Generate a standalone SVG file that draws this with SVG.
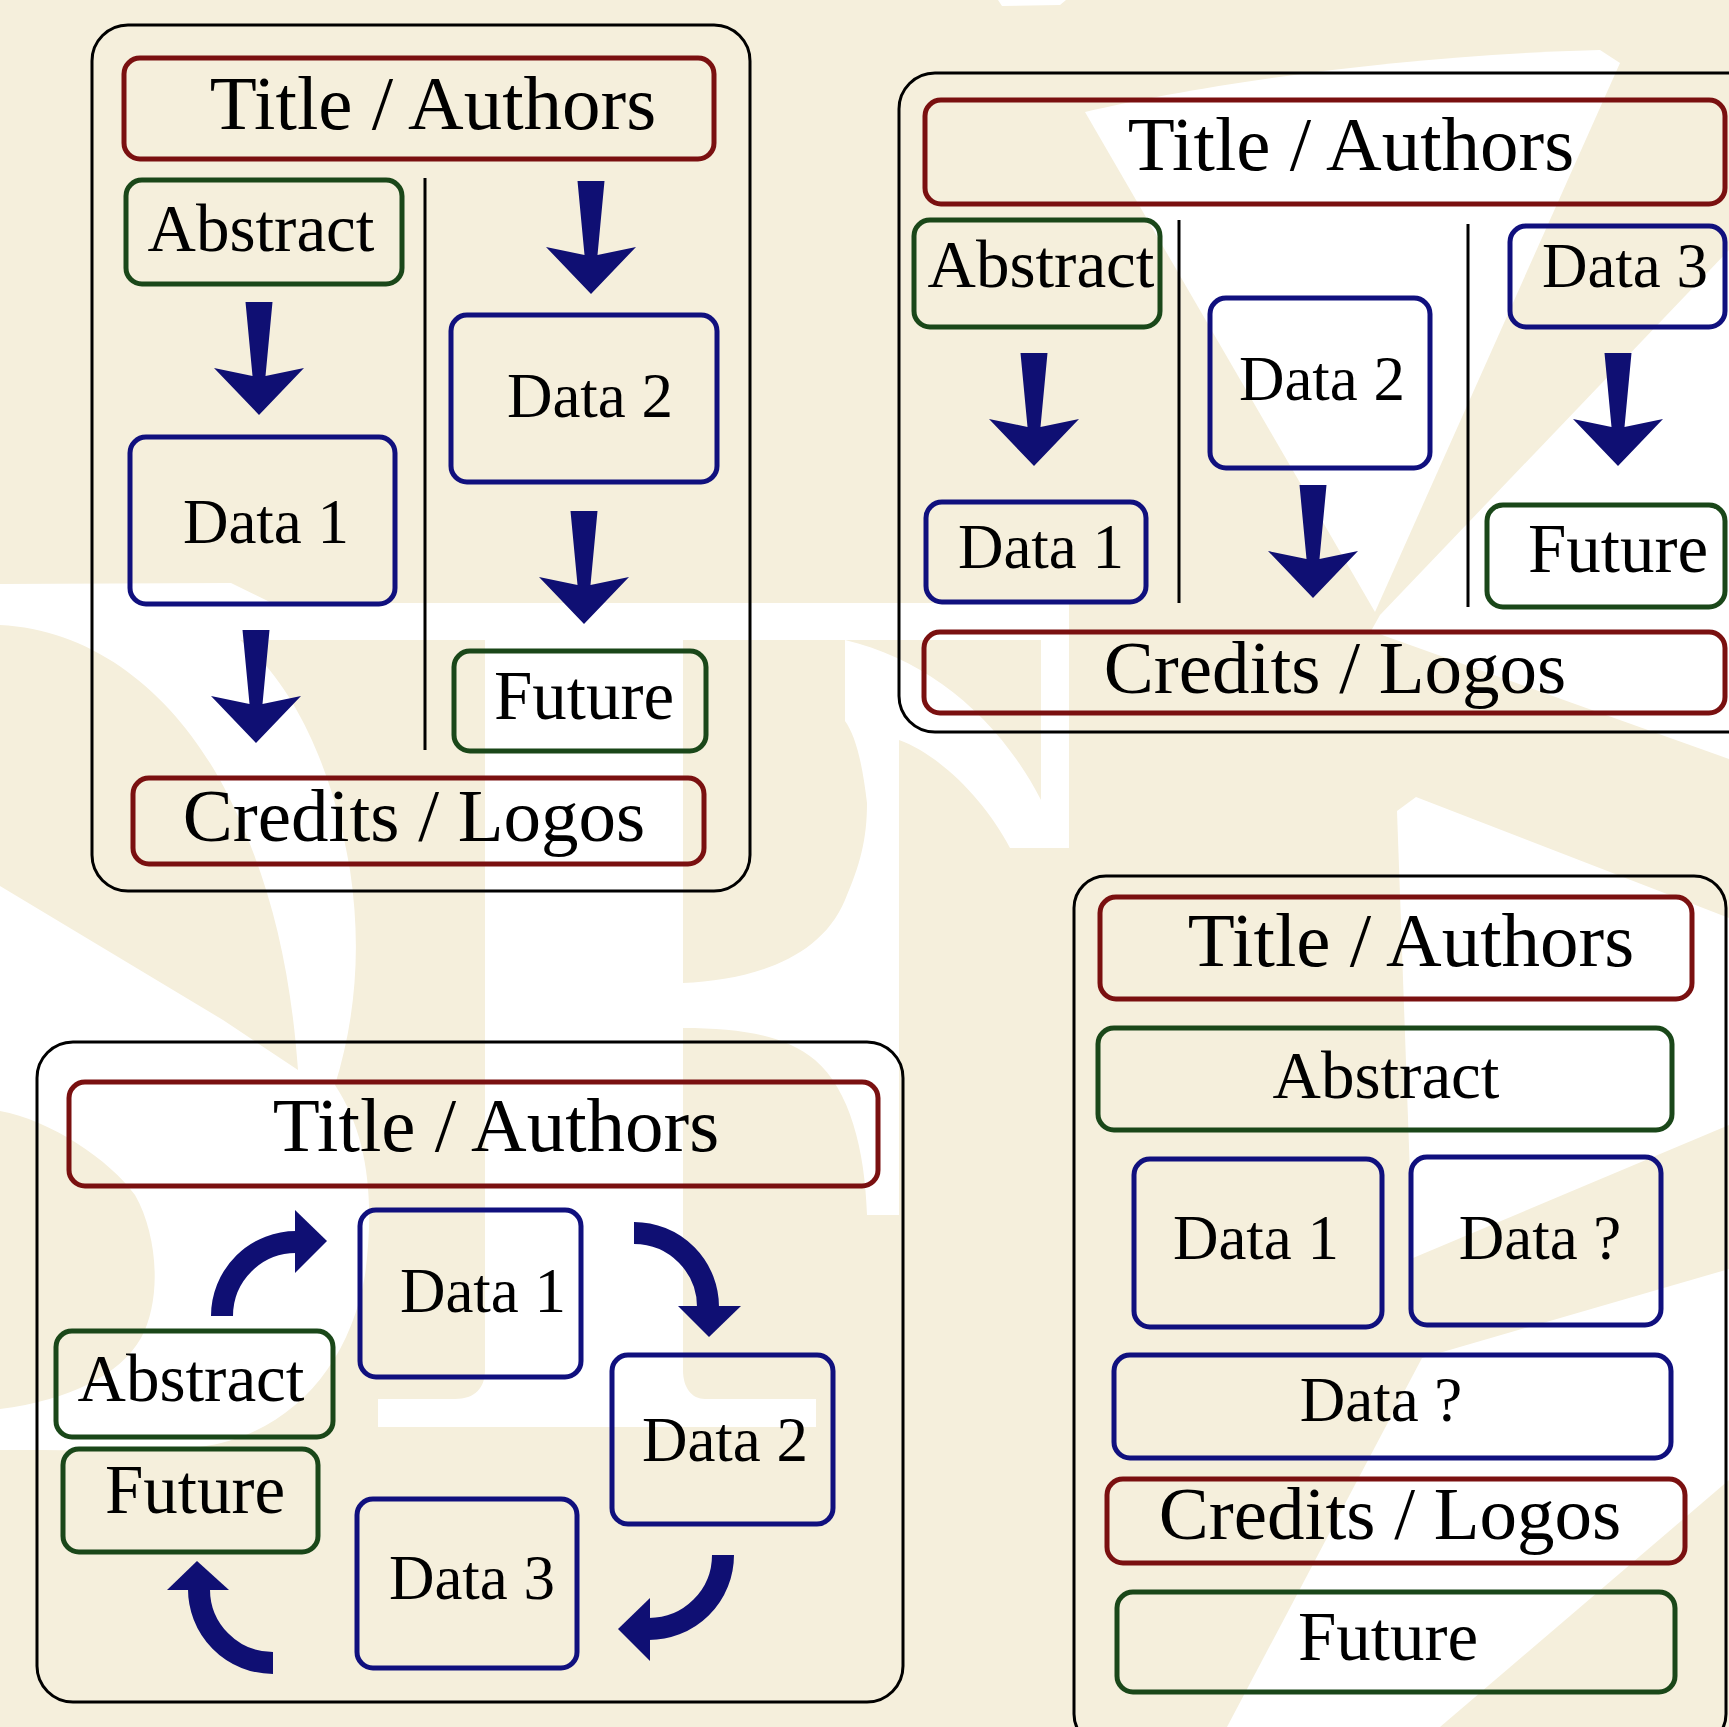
<svg xmlns="http://www.w3.org/2000/svg" width="1729" height="1727" viewBox="0 0 1729 1727">
<style>
.bg{fill:#F5EFDC}
.wm{fill:#FFFFFF}
.panel{fill:none;stroke:#000;stroke-width:3}
.red{fill:none;stroke:#7A1010;stroke-width:5}
.green{fill:none;stroke:#1A4719;stroke-width:5}
.blue{fill:none;stroke:#10107E;stroke-width:5}
.div{stroke:#000;stroke-width:3}
.arr{fill:#0F0F73}
.arc{fill:none;stroke:#0F0F73;stroke-width:22}
text{font-family:"Liberation Serif","Times New Roman",serif;fill:#000;text-anchor:middle}
.t{font-size:77px}
.c{font-size:75px}
.a{font-size:67px}
.d{font-size:63px}
.f{font-size:69px}
</style>
<defs>
<path id="dn" d="M-13.5,-113 L13.5,-113 L6.5,-39 L45,-47 L0,0 L-45,-47 L-6.5,-39 Z"/>
</defs>
<rect class="bg" x="0" y="0" width="1729" height="1727"/>
<g id="watermark" class="wm">
<path d="M998,0 H1066 L1060,5 L1002,6 Z"/>
<path d="M0,584 L231,583 L272,603 L1069,603 L1069,848 L1041,848 L1041,640 L683,640 L683,1370 C683,1388 692,1399 705,1399 L816,1399 L816,1427 L378,1427 L378,1399 L455,1399 C475,1399 485,1388 485,1370 L485,640 L240,640 C300,690 335,780 350,870 C362,950 355,1020 335,1085 C368,1135 375,1200 365,1275 C350,1365 290,1435 200,1447 C130,1452 60,1450 0,1450 Z M0,625 C100,630 180,700 228,795 C268,875 290,960 298,1070 L223,1020 L0,886 Z M0,1111 C50,1120 110,1160 135,1195 C158,1235 162,1300 141,1338 C120,1375 70,1400 0,1409 Z" fill-rule="evenodd"/>
<path d="M683,983 C750,980 820,960 845,900 C860,865 867,840 867,803 L899,803 L899,1215 L867,1215 C865,1150 850,1090 815,1060 C785,1035 740,1028 683,1028 Z"/>
<path d="M845,640 C930,660 1000,720 1041,800 L1041,848 L1010,848 C985,800 940,755 899,740 L899,803 L867,803 C862,760 855,735 845,721 Z"/>
<path d="M1085,112 C1200,85 1400,55 1600,50 L1620,63 L1375,612 Z"/>
<path d="M1729,250 L1729,759 L1371,631 L1380,615 Z"/>
<path d="M1397,811 L1416,797 L1729,918 L1729,1125 L1413,1258 Z"/>
<path d="M1422,1358 L1729,1269 L1729,1480 L1440,1727 L1227,1727 Z"/>
</g>
<g id="panels">
<rect id="panel1" class="panel" x="92" y="25" width="658" height="866" rx="36"/>
<rect id="panel2" class="panel" x="899" y="73" width="900" height="659" rx="36"/>
<rect id="panel3" class="panel" x="37" y="1042" width="866" height="660" rx="36"/>
<rect id="panel4" class="panel" x="1074" y="876" width="652" height="870" rx="32"/>
<line class="div" x1="425" y1="178" x2="425" y2="750"/>
<line class="div" x1="1179" y1="220" x2="1179" y2="603"/>
<line class="div" x1="1468" y1="224" x2="1468" y2="607"/>
</g>
<g id="p1-title"><rect class="red" x="124" y="58" width="590" height="101" rx="16"/><text class="t" x="433" y="129">Title / Authors</text></g>
<g id="p1-abstract"><rect class="green" x="126" y="180" width="276" height="104" rx="16"/><text class="a" x="261" y="251">Abstract</text></g>
<g id="p1-data1"><rect class="blue" x="130" y="437" width="265" height="167" rx="16"/><text class="d" x="266" y="543">Data 1</text></g>
<g id="p1-data2"><rect class="blue" x="451" y="315" width="266" height="167" rx="16"/><text class="d" x="590" y="417">Data 2</text></g>
<g id="p1-future"><rect class="green" x="454" y="651" width="252" height="100" rx="16"/><text class="f" x="584" y="719">Future</text></g>
<g id="p1-credits"><rect class="red" x="133" y="778" width="571" height="86" rx="16"/><text class="c" x="414" y="841">Credits / Logos</text></g>
<g id="p2-title"><rect class="red" x="925" y="100" width="800" height="104" rx="16"/><text class="t" x="1351" y="170">Title / Authors</text></g>
<g id="p2-abstract"><rect class="green" x="914" y="220" width="246" height="107" rx="16"/><text class="a" x="1041" y="287">Abstract</text></g>
<g id="p2-data3"><rect class="blue" x="1510" y="226" width="215" height="101" rx="16"/><text class="d" x="1625" y="287">Data 3</text></g>
<g id="p2-data2"><rect class="blue" x="1210" y="298" width="220" height="170" rx="16"/><text class="d" x="1322" y="400">Data 2</text></g>
<g id="p2-data1"><rect class="blue" x="926" y="502" width="220" height="100" rx="16"/><text class="d" x="1041" y="568">Data 1</text></g>
<g id="p2-future"><rect class="green" x="1487" y="505" width="238" height="102" rx="16"/><text class="f" x="1618" y="572">Future</text></g>
<g id="p2-credits"><rect class="red" x="924" y="632" width="801" height="81" rx="16"/><text class="c" x="1335" y="693">Credits / Logos</text></g>
<g id="p3-title"><rect class="red" x="69" y="1082" width="809" height="104" rx="16"/><text class="t" x="496" y="1151">Title / Authors</text></g>
<g id="p3-data1"><rect class="blue" x="360" y="1210" width="221" height="167" rx="16"/><text class="d" x="483" y="1312">Data 1</text></g>
<g id="p3-abstract"><rect class="green" x="56" y="1331" width="277" height="106" rx="16"/><text class="a" x="191" y="1401">Abstract</text></g>
<g id="p3-future"><rect class="green" x="63" y="1449" width="255" height="103" rx="16"/><text class="f" x="195" y="1513">Future</text></g>
<g id="p3-data2"><rect class="blue" x="612" y="1355" width="221" height="169" rx="16"/><text class="d" x="725" y="1461">Data 2</text></g>
<g id="p3-data3"><rect class="blue" x="357" y="1499" width="220" height="169" rx="16"/><text class="d" x="472" y="1599">Data 3</text></g>
<g id="p4-title"><rect class="red" x="1100" y="897" width="592" height="102" rx="16"/><text class="t" x="1411" y="966">Title / Authors</text></g>
<g id="p4-abstract"><rect class="green" x="1098" y="1028" width="574" height="102" rx="16"/><text class="a" x="1386" y="1098">Abstract</text></g>
<g id="p4-data1"><rect class="blue" x="1134" y="1159" width="248" height="168" rx="16"/><text class="d" x="1256" y="1259">Data 1</text></g>
<g id="p4-dataq1"><rect class="blue" x="1411" y="1157" width="250" height="168" rx="16"/><text class="d" x="1540" y="1259">Data ?</text></g>
<g id="p4-dataq2"><rect class="blue" x="1114" y="1355" width="557" height="103" rx="16"/><text class="d" x="1381" y="1421">Data ?</text></g>
<g id="p4-credits"><rect class="red" x="1107" y="1479" width="578" height="84" rx="16"/><text class="c" x="1390" y="1539">Credits / Logos</text></g>
<g id="p4-future"><rect class="green" x="1117" y="1592" width="558" height="100" rx="16"/><text class="f" x="1388" y="1660">Future</text></g>
<g id="connectors" class="arr">
<use href="#dn" transform="translate(259,415)"/>
<use href="#dn" transform="translate(256,743)"/>
<use href="#dn" transform="translate(591,294)"/>
<use href="#dn" transform="translate(584,624)"/>
<use href="#dn" transform="translate(1034,466)"/>
<use href="#dn" transform="translate(1313,598)"/>
<use href="#dn" transform="translate(1618,466)"/>
<path class="arc" d="M222,1316 A74,74 0 0 1 297,1242"/>
<polygon points="295,1210 327,1241 295,1273"/>
<path class="arc" d="M634,1233 A74,74 0 0 1 708,1308"/>
<polygon points="678,1306 741,1306 709,1337"/>
<path class="arc" d="M723,1555 A74,74 0 0 1 648,1629"/>
<polygon points="650,1598 650,1661 618,1629"/>
<path class="arc" d="M273,1663 A74,74 0 0 1 199,1588"/>
<polygon points="167,1590 229,1590 197,1561"/>
</g>
</svg>
